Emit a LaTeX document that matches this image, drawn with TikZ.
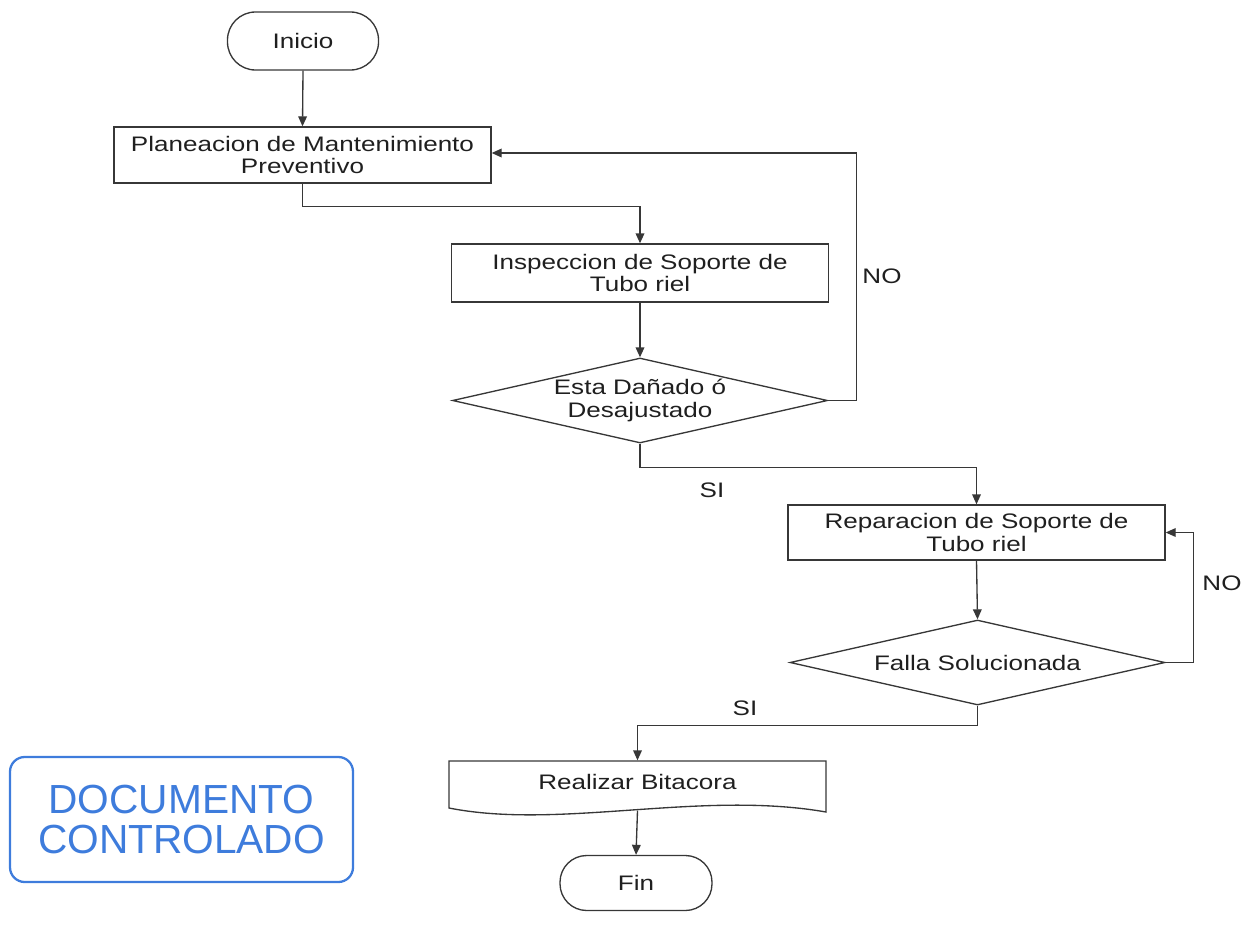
\documentclass[tikz,border=0pt]{standalone}
\usepackage{fontspec}
\setmainfont{Liberation Sans}[FakeStretch=1.24]
\newfontfamily\stampfont{Liberation Sans}
\usetikzlibrary{arrows.meta,shapes.geometric}
\definecolor{lineclr}{RGB}{55,55,55}
\definecolor{stampblue}{RGB}{62,124,220}
\tikzset{every picture/.style={line width=1pt}}
\tikzset{
  flowtext/.style={font=\fontsize{15.75}{17}\selectfont, text=black!88, align=center},
  term/.style={flowtext, draw=lineclr, rounded corners=21pt, minimum width=113.25pt, minimum height=43.5pt, inner sep=0pt},
  proc/.style={flowtext, draw=lineclr, minimum width=282.75pt, minimum height=42pt, inner sep=0pt},
  decide/.style={flowtext, draw=lineclr, diamond, aspect=4.4, minimum width=281.25pt, minimum height=63.75pt, inner sep=0pt},
  flow/.style={draw=lineclr, -{Triangle[length=7.5pt,width=6.5pt]}},
  answer/.style={flowtext, inner sep=0pt}
}

\begin{document}
\begin{tikzpicture}[x=0.75pt,y=0.75pt,yscale=-1,xscale=1]
\useasboundingbox (0,0) rectangle (1244,931);

%Terminal: Inicio
\node[term] (inicio) at (303,41) {Inicio};
%Process: Planeacion
\node[proc] (plan) at (302.5,155) {Planeacion de Mantenimiento\\Preventivo};
%Process: Inspeccion
\node[proc, minimum height=43.5pt] (insp) at (640,273) {Inspeccion de Soporte de\\Tubo riel};
%Decision: Esta Dañado
\node[decide] (dec1) at (640,400.5) {Esta Dañado ó\\Desajustado};
%Process: Reparacion
\node[proc, minimum height=41.25pt] (rep) at (976.5,532.5) {Reparacion de Soporte de\\Tubo riel};
%Decision: Falla Solucionada
\node[decide] (dec2) at (977.5,662.5) {Falla Solucionada};
%Document: Bitacora
\node[flowtext, minimum width=282.75pt, minimum height=36.75pt, inner sep=0pt] (bit) at (637.5,785.5) {};
\draw[lineclr] (449,761) -- (826,761) -- (826,812) .. controls (700,790) and (560,830) .. (449,808) -- cycle ;
\node[flowtext] (bittext) at (637.5,782) {Realizar Bitacora};
%Terminal: Fin
\node[term, minimum width=114pt, minimum height=41.25pt, rounded corners=20pt] (fin) at (636,883) {Fin};

%Stamp
\node[draw=stampblue, line width=1.7pt, rounded corners=11pt, minimum width=257.25pt, minimum height=93.75pt, inner sep=0pt, align=center, text=stampblue, font=\stampfont\fontsize{30.5}{30}\selectfont] (stamp) at (181.5,819.5) {DOCUMENTO\\CONTROLADO};

%Connectors
\draw[flow] (inicio.south) -- (plan.north);
\draw[flow] (plan.south) -- ++(0,23) -| (insp.north);
\draw[flow] (insp.south) -- (dec1.north);
\draw[flow] (dec1.east) -- ++(28,0) |- ([yshift=-1.5pt]plan.east);
\draw[flow] (dec1.south) -- ++(0,24) -| (rep.north);
\draw[flow] (rep.south) -- (dec2.north);
\draw[flow] (dec2.east) -- ++(28,0) |- (rep.east);
\draw[flow] (dec2.south) -- ++(0,20) -| (bit.north);
\draw[flow] (bit.south) -- (fin.north);

% Text Node
\node[answer] (no1) at (882,276) {NO};
% Text Node
\node[answer] (si1) at (712,490) {SI};
% Text Node
\node[answer] (no2) at (1222,583) {NO};
% Text Node
\node[answer] (si2) at (745,708) {SI};

\end{tikzpicture}
\end{document}
